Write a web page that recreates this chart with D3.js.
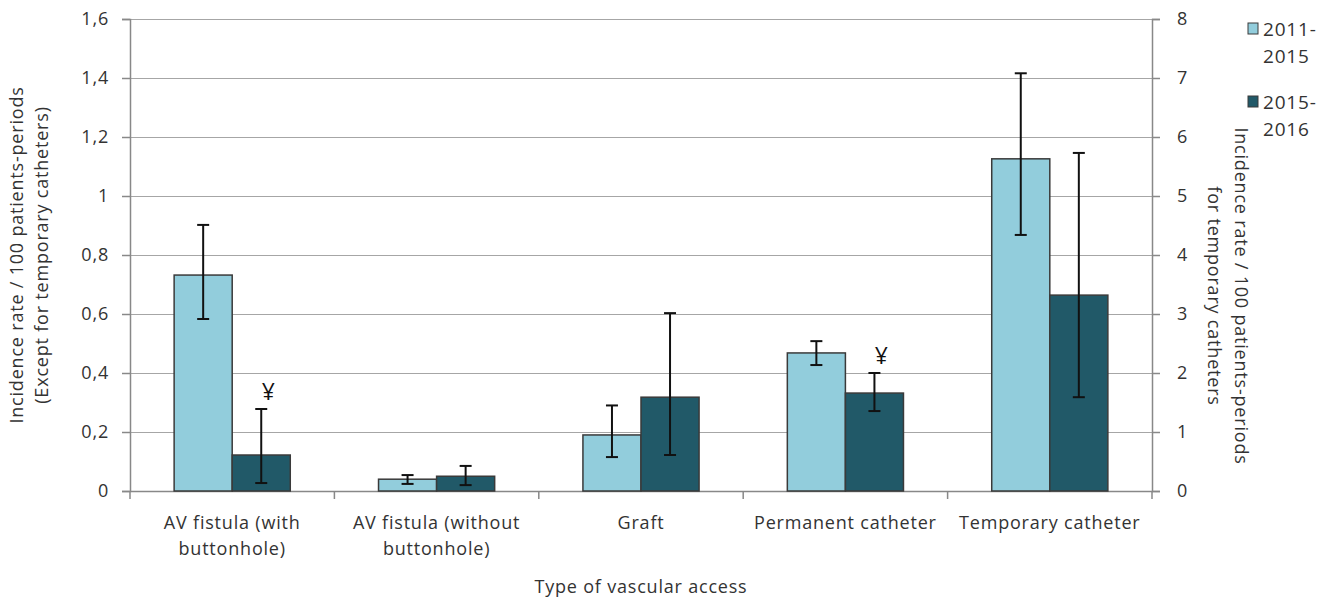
<!DOCTYPE html>
<html>
<head>
<meta charset="utf-8">
<script src="https://cdn.jsdelivr.net/npm/d3@7"></script>
<style>
  body { margin: 0; background: #fff; }
  text { font-family: "Open Sans", sans-serif; fill: #333; }
</style>
</head>
<body>
<div id="chart"></div>
<script>
// categories and their wrapped tick labels
var categories = ["AV fistula (with buttonhole)", "AV fistula (without buttonhole)", "Graft", "Permanent catheter", "Temporary catheter"];
var categoryLines = [["AV fistula (with", "buttonhole)"], ["AV fistula (without", "buttonhole)"], ["Graft"], ["Permanent catheter"], ["Temporary catheter"]];
var periods = ["2011-2015", "2015-2016"];
var periodLines = [["2011-", "2015"], ["2015-", "2016"]];

// temporary catheter is read on the right axis (0-8)
var onRightAxis = [false, false, false, false, true];

var rate2011 = [0.732, 0.04, 0.19, 0.468, 5.63];
var low2011 = [0.583, 0.024, 0.115, 0.427, 4.34];
var high2011 = [0.902, 0.054, 0.29, 0.508, 7.08];

var rate2015 = [0.122, 0.05, 0.318, 0.332, 3.32];
var low2015 = [0.027, 0.02, 0.122, 0.271, 1.59];
var high2015 = [0.278, 0.085, 0.603, 0.4, 5.73];

// ¥ flag above the 2015-2016 bar
var flag2015 = [true, false, false, true, false];

var leftTicks = [0, 0.2, 0.4, 0.6, 0.8, 1, 1.2, 1.4, 1.6];
var rightTicks = [0, 1, 2, 3, 4, 5, 6, 7, 8];

var colors = ["#92cddc", "#215968"];

function init() {
    var w = 1329, h = 597;
    var left = 130, right = 1152, top = 19, bottom = 491;
    var fs = "18px", ls = "0.8px";

    var svg = d3.select("#chart").append("svg")
        .attr("width", w)
        .attr("height", h);

    var x0 = d3.scaleBand()
        .domain(categories)
        .range([left, right])
        .paddingInner(0)
        .paddingOuter(0);

    var x1 = d3.scaleBand()
        .domain(periods)
        .range([0, x0.bandwidth()])
        .paddingInner(0)
        .paddingOuter(0.76);

    var yL = d3.scaleLinear().domain([0, 1.6]).range([bottom, top]);
    var yR = d3.scaleLinear().domain([0, 8]).range([bottom, top]);

    var fmt = d => String(d).replace(".", ",");

    // gridlines
    svg.append("g")
        .selectAll("line")
        .data(leftTicks.slice(1))
        .join("line")
        .attr("x1", left).attr("x2", right)
        .attr("y1", d => Math.round(yL(d)) + 0.5)
        .attr("y2", d => Math.round(yL(d)) + 0.5)
        .attr("stroke", "#a6a6a6")
        .attr("stroke-width", 1.2);

    // left axis
    var yAxisL = d3.axisLeft(yL).tickValues(leftTicks).tickFormat(fmt).tickSize(8).tickPadding(13);
    var gL = svg.append("g")
        .attr("transform", `translate(${left},0)`)
        .call(yAxisL);
    gL.selectAll("text").attr("font-size", fs).style("letter-spacing", ls).style("fill", "#333");

    // right axis
    var yAxisR = d3.axisRight(yR).tickValues(rightTicks).tickSize(8).tickPadding(17);
    var gR = svg.append("g")
        .attr("transform", `translate(${right},0)`)
        .call(yAxisR);
    gR.selectAll("text").attr("font-size", fs).style("fill", "#333");

    // x axis
    var xAxis = d3.axisBottom(x0).tickValues([]).tickSizeOuter(0);
    var gX = svg.append("g")
        .attr("transform", `translate(0,${bottom})`)
        .call(xAxis);
    gX.selectAll(".cat-tick")
        .data(d3.range(categories.length + 1))
        .join("line")
        .attr("x1", i => i < categories.length ? x0(categories[i]) : right)
        .attr("x2", i => i < categories.length ? x0(categories[i]) : right)
        .attr("y1", 0).attr("y2", 8);

    [gL, gR, gX].forEach(g => {
        g.selectAll("path, line").attr("stroke", "#888").attr("stroke-width", 1.5);
        g.select(".domain").attr("stroke", "#888");
    });

    // category labels
    var labels = svg.append("g").selectAll("text")
        .data(categories)
        .join("text")
        .attr("x", d => x0(d) + x0.bandwidth() / 2)
        .attr("y", 529)
        .attr("text-anchor", "middle")
        .attr("font-size", fs)
        .style("letter-spacing", ls);
    labels.selectAll("tspan")
        .data((d, i) => categoryLines[i])
        .join("tspan")
        .attr("x", function () { return this.parentNode.getAttribute("x"); })
        .attr("dy", (d, i) => i === 0 ? 0 : 26)
        .text(d => d);

    // bars
    var rows = categories.map((c, i) => ({
        cat: c,
        scale: onRightAxis[i] ? yR : yL,
        vals: [
            { period: periods[0], v: rate2011[i], lo: low2011[i], hi: high2011[i], flag: false },
            { period: periods[1], v: rate2015[i], lo: low2015[i], hi: high2015[i], flag: flag2015[i] }
        ]
    }));

    var groups = svg.append("g").selectAll("g")
        .data(rows)
        .join("g")
        .attr("transform", d => `translate(${x0(d.cat)},0)`);

    groups.selectAll("rect")
        .data(d => d.vals.map(v => Object.assign({ scale: d.scale }, v)))
        .join("rect")
        .attr("x", d => x1(d.period))
        .attr("y", d => d.scale(d.v))
        .attr("width", x1.bandwidth())
        .attr("height", d => bottom - d.scale(d.v))
        .attr("fill", (d, i) => colors[i])
        .attr("stroke", "#3a3a3a")
        .attr("stroke-width", 1.5);

    // error bars
    var cap = 6;
    var err = groups.selectAll(".err")
        .data(d => d.vals.map(v => Object.assign({ scale: d.scale }, v)))
        .join("g")
        .attr("class", "err")
        .attr("transform", d => `translate(${x1(d.period) + x1.bandwidth() / 2},0)`);
    err.append("line")
        .attr("y1", d => d.scale(d.lo)).attr("y2", d => d.scale(d.hi));
    err.append("line")
        .attr("x1", -cap).attr("x2", cap)
        .attr("y1", d => d.scale(d.hi)).attr("y2", d => d.scale(d.hi));
    err.append("line")
        .attr("x1", -cap).attr("x2", cap)
        .attr("y1", d => d.scale(d.lo)).attr("y2", d => d.scale(d.lo));
    err.selectAll("line").attr("stroke", "#111").attr("stroke-width", 2);

    // ¥ markers
    err.filter(d => d.flag)
        .append("text")
        .attr("x", 7)
        .attr("y", d => d.scale(d.hi) - 9)
        .attr("text-anchor", "middle")
        .attr("font-size", "23px")
        .style("fill", "#111")
        .text("¥");

    // axis titles
    svg.append("text")
        .attr("transform", "translate(23,255) rotate(-90)")
        .attr("text-anchor", "middle")
        .attr("font-size", fs)
        .style("letter-spacing", ls)
        .selectAll("tspan")
        .data(["Incidence rate / 100 patients-periods", "(Except for temporary catheters)"])
        .join("tspan")
        .attr("x", 0)
        .attr("dy", (d, i) => i === 0 ? 0 : 25)
        .text(d => d);

    svg.append("text")
        .attr("transform", "translate(1235,296) rotate(90)")
        .attr("text-anchor", "middle")
        .attr("font-size", fs)
        .style("letter-spacing", ls)
        .selectAll("tspan")
        .data(["Incidence rate / 100 patients-periods", "for temporary catheters"])
        .join("tspan")
        .attr("x", 0)
        .attr("dy", (d, i) => i === 0 ? 0 : 27)
        .text(d => d);

    svg.append("text")
        .attr("x", (left + right) / 2)
        .attr("y", 593)
        .attr("text-anchor", "middle")
        .attr("font-size", fs)
        .style("letter-spacing", ls)
        .text("Type of vascular access");

    // legend
    var legend = svg.append("g").selectAll("g")
        .data(periods)
        .join("g")
        .attr("transform", (d, i) => `translate(1248,${23 + i * 73})`);
    legend.append("rect")
        .attr("width", 10).attr("height", 11)
        .attr("fill", (d, i) => colors[i])
        .attr("stroke", "#3a3a3a")
        .attr("stroke-width", 1);
    legend.append("text")
        .attr("x", 15)
        .attr("y", 13)
        .attr("font-size", "19px")
        .style("letter-spacing", "0.8px")
        .selectAll("tspan")
        .data((d, i) => periodLines[i])
        .join("tspan")
        .attr("x", 15)
        .attr("dy", (d, i) => i === 0 ? 0 : 27)
        .text(d => d);
}

window.onload = init;
</script>
</body>
</html>
